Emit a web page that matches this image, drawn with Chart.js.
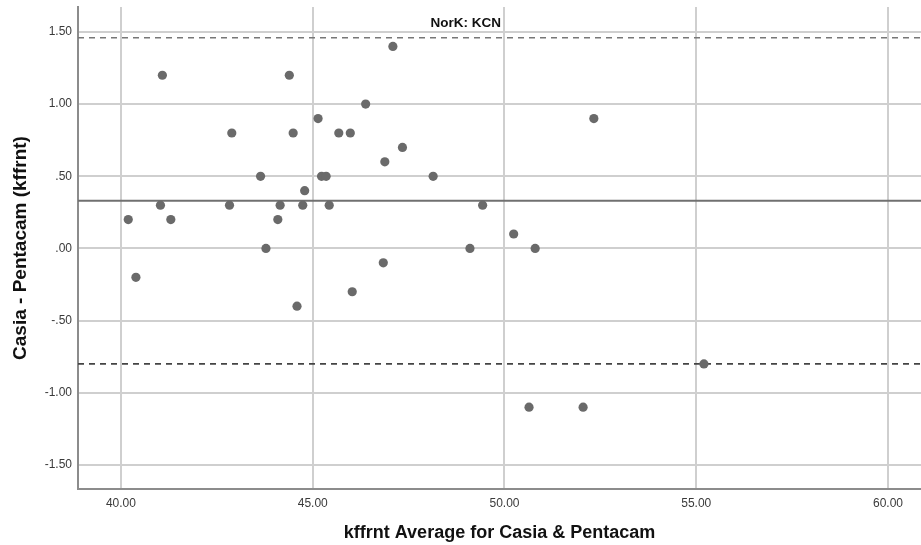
<!DOCTYPE html>
<html>
<head>
<meta charset="utf-8">
<script src="https://cdn.jsdelivr.net/npm/chart.js@4/dist/chart.umd.min.js"></script>
<style>
  html, body { margin: 0; padding: 0; background: #ffffff; overflow: hidden; }
  #wrap { width: 921px; height: 545px; position: relative; }
</style>
</head>
<body>
<div id="wrap"><canvas id="c"></canvas></div>
<script>
// ---- Data ----
const averageValues = [40.19, 40.39, 41.03, 41.08, 41.30, 42.83, 42.89, 43.64, 43.78, 44.09,
  44.15, 44.39, 44.49, 44.59, 44.74, 44.79, 45.14, 45.23, 45.35, 45.43,
  45.68, 45.98, 46.03, 46.38, 46.84, 46.88, 47.09, 47.34, 48.14, 49.10,
  49.43, 50.24, 50.64, 50.80, 52.05, 52.33, 55.20];
const differenceValues = [0.20, -0.20, 0.30, 1.20, 0.20, 0.30, 0.80, 0.50, 0.00, 0.20,
  0.30, 1.20, 0.80, -0.40, 0.30, 0.40, 0.90, 0.50, 0.50, 0.30,
  0.80, 0.80, -0.30, 1.00, -0.10, 0.60, 1.40, 0.70, 0.50, 0.00,
  0.30, 0.10, -1.10, 0.00, -1.10, 0.90, -0.80];
const meanDifference = 0.33;
const upperLimit = 1.46;
const lowerLimit = -0.80;

const xTickValues = [40, 45, 50, 55, 60];
const xTickLabels = ["40.00", "45.00", "50.00", "55.00", "60.00"];
const yTickValues = [-1.5, -1.0, -0.5, 0.0, 0.5, 1.0, 1.5];
const yTickLabels = ["-1.50", "-1.00", "-.50", ".00", ".50", "1.00", "1.50"];

const chartTitle = "NorK: KCN";
const xTitle = "kffrnt Average for Casia & Pentacam";
const yTitle = "Casia - Pentacam (kffrnt)";

// ---- Chart ----
const X_MIN = 38.88, X_MAX = 60.86, Y_MIN = -1.667, Y_MAX = 1.673;
const FONT = '"Liberation Sans", Arial, sans-serif';

const points = averageValues.map((x, i) => ({ x: x, y: differenceValues[i] }));
const hLine = v => [{ x: X_MIN, y: v }, { x: X_MAX, y: v }];

const textPlugin = {
  id: 'textPlugin',
  afterDraw(chart) {
    const ctx = chart.ctx;
    const a = chart.chartArea;
    ctx.save();
    ctx.fillStyle = '#111111';
    ctx.textAlign = 'center';
    ctx.textBaseline = 'middle';
    ctx.font = 'bold 13.5px ' + FONT;
    ctx.fillText(chartTitle, a.left + 0.46 * (a.right - a.left), a.top + 16);
    ctx.restore();
  }
};

new Chart(document.getElementById('c'), {
  type: 'scatter',
  data: {
    datasets: [
      {
        label: 'Difference',
        data: points,
        backgroundColor: '#6a6a6a',
        borderColor: '#6a6a6a',
        pointRadius: 4.6,
        pointBorderWidth: 0,
        order: 0
      },
      {
        type: 'line',
        label: 'Mean',
        data: hLine(meanDifference),
        borderColor: '#707070',
        borderWidth: 2,
        pointRadius: 0,
        fill: false,
        order: 2
      },
      {
        type: 'line',
        label: 'Upper',
        data: hLine(upperLimit),
        borderColor: '#777777',
        borderWidth: 1.6,
        borderDash: [6, 5],
        pointRadius: 0,
        fill: false,
        order: 2
      },
      {
        type: 'line',
        label: 'Lower',
        data: hLine(lowerLimit),
        borderColor: '#444444',
        borderWidth: 1.6,
        borderDash: [6, 5],
        pointRadius: 0,
        fill: false,
        order: 2
      }
    ]
  },
  options: {
    responsive: true,
    maintainAspectRatio: false,
    animation: false,
    events: [],
    layout: { autoPadding: false, padding: { top: 7, right: 0, left: 0, bottom: 0 } },
    plugins: {
      legend: { display: false },
      tooltip: { enabled: false },
      title: { display: false }
    },
    scales: {
      x: {
        type: 'linear',
        min: X_MIN,
        max: X_MAX,
        afterBuildTicks(scale) { scale.ticks = xTickValues.map(v => ({ value: v })); },
        afterFit(scale) { scale.height = 56; scale.paddingLeft = 0; scale.paddingRight = 0; },
        ticks: {
          callback(value) { const i = xTickValues.indexOf(value); return i >= 0 ? xTickLabels[i] : ''; },
          color: '#3a3a3a',
          font: { family: FONT, size: 12 },
          padding: 7,
          maxRotation: 0,
          autoSkip: false
        },
        grid: { color: '#cfcfcf', lineWidth: 2, drawTicks: false },
        border: { display: true, color: '#8c8c8c', width: 2 },
        title: {
          display: true,
          text: xTitle,
          color: '#111111',
          font: { family: FONT, size: 18, weight: 'bold' },
          padding: { top: 0, bottom: 1 }
        }
      },
      y: {
        type: 'linear',
        min: Y_MIN,
        max: Y_MAX,
        afterBuildTicks(scale) { scale.ticks = yTickValues.map(v => ({ value: v })); },
        afterFit(scale) { scale.width = 78; scale.paddingTop = 0; scale.paddingBottom = 0; },
        ticks: {
          callback(value) { const i = yTickValues.findIndex(v => Math.abs(v - value) < 1e-9); return i >= 0 ? yTickLabels[i] : ''; },
          color: '#3a3a3a',
          font: { family: FONT, size: 12 },
          padding: 6,
          autoSkip: false
        },
        grid: { color: '#cfcfcf', lineWidth: 2, drawTicks: false },
        border: { display: true, color: '#8c8c8c', width: 2 },
        title: {
          display: true,
          text: yTitle,
          color: '#111111',
          font: { family: FONT, size: 19, weight: 'bold' },
          padding: { top: 9, bottom: 0 }
        }
      }
    }
  },
  plugins: [textPlugin]
});
</script>
</body>
</html>
